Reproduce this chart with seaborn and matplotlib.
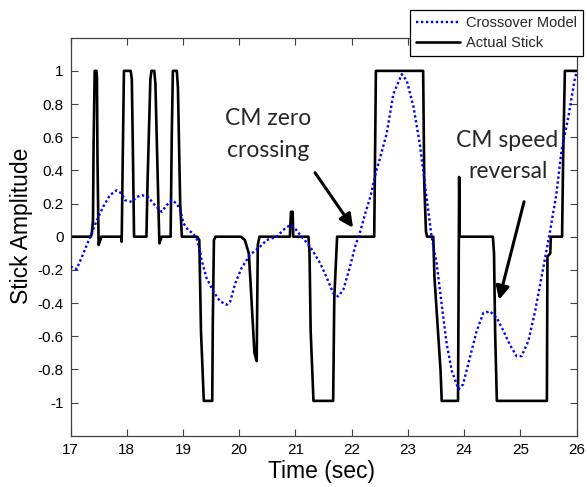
import matplotlib
matplotlib.use("Agg")
import matplotlib.pyplot as plt
import seaborn as sns
import pandas as pd
from matplotlib.lines import Line2D

# ---------------- data ----------------
t_cm = [17.00, 17.11, 17.23, 17.35, 17.47, 17.58, 17.70, 17.82, 17.91, 17.97,
        18.09, 18.18, 18.27, 18.38, 18.50, 18.62, 18.71, 18.80, 18.89, 18.95,
        19.01, 19.09, 19.18, 19.24, 19.30, 19.33, 19.42, 19.54, 19.66, 19.78,
        19.84, 19.93, 20.04, 20.19, 20.37, 20.49, 20.67, 20.78, 20.90, 20.99,
        21.11, 21.26, 21.44, 21.56, 21.67, 21.76, 21.85, 21.97, 22.06, 22.15,
        22.24, 22.33, 22.44, 22.50, 22.62, 22.74, 22.89, 22.98, 23.10, 23.21,
        23.33, 23.42, 23.51, 23.60, 23.69, 23.78, 23.90, 23.98, 24.10, 24.22,
        24.34, 24.46, 24.58, 24.70, 24.81, 24.93, 25.02, 25.14, 25.26, 25.41,
        25.53, 25.64, 25.73, 25.85, 25.97, 26.00]
v_cm = [-0.18, -0.195, -0.10, 0.00, 0.10, 0.18, 0.25, 0.28, 0.26, 0.22,
        0.21, 0.24, 0.25, 0.24, 0.19, 0.15, 0.19, 0.22, 0.20, 0.16,
        0.08, 0.04, 0.02, -0.01, -0.08, -0.14, -0.25, -0.33, -0.39, -0.41,
        -0.39, -0.28, -0.19, -0.11, -0.06, -0.02, 0.00, 0.04, 0.07, 0.05,
        0.00, -0.06, -0.16, -0.25, -0.34, -0.36, -0.32, -0.18, -0.06, 0.03,
        0.14, 0.24, 0.40, 0.47, 0.62, 0.86, 0.98, 0.94, 0.78, 0.56,
        0.24, 0.00, -0.16, -0.41, -0.65, -0.81, -0.92, -0.89, -0.73, -0.57,
        -0.46, -0.45, -0.49, -0.57, -0.65, -0.72, -0.72, -0.63, -0.45, -0.18,
        0.04, 0.26, 0.52, 0.72, 0.96, 0.99]

t_stick = [17.00, 17.36, 17.38, 17.40, 17.41, 17.43, 17.46, 17.47, 17.48, 17.50, 17.52, 17.55,
           17.90, 17.91, 17.93, 17.95, 18.07, 18.09, 18.11, 18.13,
           18.35, 18.37, 18.42, 18.44, 18.49, 18.51, 18.54, 18.58, 18.60, 18.62,
           18.78, 18.80, 18.82, 18.89, 18.91, 18.95, 18.98,
           19.25, 19.29, 19.32, 19.37, 19.52, 19.53, 19.55, 19.58,
           20.03, 20.10, 20.17, 20.20, 20.27, 20.31, 20.33, 20.36,
           20.90, 20.92, 20.95, 20.96,
           21.23, 21.25, 21.27, 21.32, 21.67, 21.69, 21.74,
           22.40, 22.43, 23.27, 23.29, 23.32, 23.34, 23.45, 23.47, 23.58, 23.60,
           23.89, 23.91, 23.92,
           24.51, 24.53, 24.55, 24.58, 25.47, 25.48, 25.53, 25.54,
           25.74, 25.76, 25.79, 26.00]
v_stick = [0.00, 0.00, 0.02, 0.10, 0.54, 1.00, 1.00, 0.96, 0.46, -0.05, -0.03, 0.00,
           0.00, -0.03, 0.50, 1.00, 1.00, 0.95, 0.50, 0.00,
           0.00, 0.33, 0.95, 1.00, 1.00, 0.92, 0.50, -0.04, -0.02, 0.00,
           0.00, 0.60, 1.00, 1.00, 0.90, 0.20, 0.00,
           0.00, -0.02, -0.57, -0.99, -0.99, -0.52, -0.02, 0.00,
           0.00, -0.02, -0.10, -0.27, -0.70, -0.75, -0.05, 0.00,
           0.00, 0.15, 0.15, 0.00,
           0.00, -0.10, -0.57, -0.99, -0.99, -0.37, 0.00,
           0.00, 1.00, 1.00, 0.32, 0.03, 0.00, 0.00, -0.24, -0.81, -0.99,
           -0.99, 0.36, 0.00,
           0.00, -0.10, -0.58, -0.99, -0.99, -0.12, -0.10, 0.00,
           0.00, 0.50, 1.00, 1.00]

x_ticks = [17, 18, 19, 20, 21, 22, 23, 24, 25, 26]
y_ticks = [-1, -0.8, -0.6, -0.4, -0.2, 0, 0.2, 0.4, 0.6, 0.8, 1]
y_tick_labels = ["-1", "-0.8", "-0.6", "-0.4", "-0.2", "0", "0.2", "0.4", "0.6", "0.8", "1"]

series_names = ["Crossover Model", "Actual Stick"]

# ---------------- plot ----------------
sns.set_style("ticks")
plt.rcParams["font.family"] = ["Liberation Sans", "DejaVu Sans"]

fig = plt.figure(figsize=(5.87, 4.87), dpi=100)
ax = fig.add_axes([70.5 / 587, 1 - 435.7 / 487, (576.7 - 70.5) / 587, (435.7 - 37.7) / 487])

df_stick = pd.DataFrame({"t": t_stick, "v": v_stick})
df_cm = pd.DataFrame({"t": t_cm, "v": v_cm})

sns.lineplot(data=df_stick, x="t", y="v", ax=ax, color="black", lw=1.9,
             estimator=None, sort=False, zorder=2)
sns.lineplot(data=df_cm, x="t", y="v", ax=ax, color="#0000FF", lw=1.7,
             linestyle=(0, (1, 1.1)), estimator=None, sort=False, zorder=3)

ax.set_xlim(17, 26)
ax.set_ylim(-1.2, 1.2)
ax.set_xticks(x_ticks)
ax.set_yticks(y_ticks)
ax.set_yticklabels(y_tick_labels)

for lab in ax.get_xticklabels() + ax.get_yticklabels():
    lab.set_fontsize(11)
    lab.set_color("black")

ax.tick_params(direction="in", length=5, width=0.8, top=True, right=True,
               color="#404040", pad=5)
for s in ax.spines.values():
    s.set_color("#404040")
    s.set_linewidth(0.9)

ax.set_xlabel("Time (sec)", fontsize=16.5, color="black")
ax.set_ylabel("Stick Amplitude", fontsize=16.5, color="black")
ax.xaxis.set_label_coords(0.495, -0.06)
ax.yaxis.set_label_coords(-0.074, 0.528)

# annotations
ann_font = ["Lato", "DejaVu Sans"]
fs_ann = 16.5
ax.text(20.51, 0.673, "CM zero", ha="center", va="baseline", fontsize=fs_ann, family=ann_font)
ax.text(20.51, 0.478, "crossing", ha="center", va="baseline", fontsize=fs_ann, family=ann_font)
ax.text(24.77, 0.538, "CM speed", ha="center", va="baseline", fontsize=fs_ann, family=ann_font)
ax.text(24.785, 0.354, "reversal", ha="center", va="baseline", fontsize=fs_ann, family=ann_font)

arrow = dict(arrowstyle="-|>", lw=2.2, color="black", mutation_scale=20,
             shrinkA=0, shrinkB=0)
ax.annotate("", xy=(22.023, 0.054), xytext=(21.347, 0.386), arrowprops=arrow)
ax.annotate("", xy=(24.619, -0.380), xytext=(25.064, 0.211), arrowprops=arrow)

# legend
handles = [Line2D([], [], color="#0000FF", lw=1.7, linestyle=(0, (1, 1.1))),
           Line2D([], [], color="black", lw=1.9)]
leg = fig.legend(handles, series_names, loc="upper right",
                 bbox_to_anchor=(583 / 587, 1 - 10 / 487), fontsize=10.5,
                 frameon=True, fancybox=False, framealpha=1, edgecolor="black",
                 borderpad=0.4, labelspacing=0.45, handlelength=3.0,
                 handletextpad=0.45, borderaxespad=0)
leg.get_frame().set_linewidth(0.9)

fig.savefig("out.png", dpi=100)
